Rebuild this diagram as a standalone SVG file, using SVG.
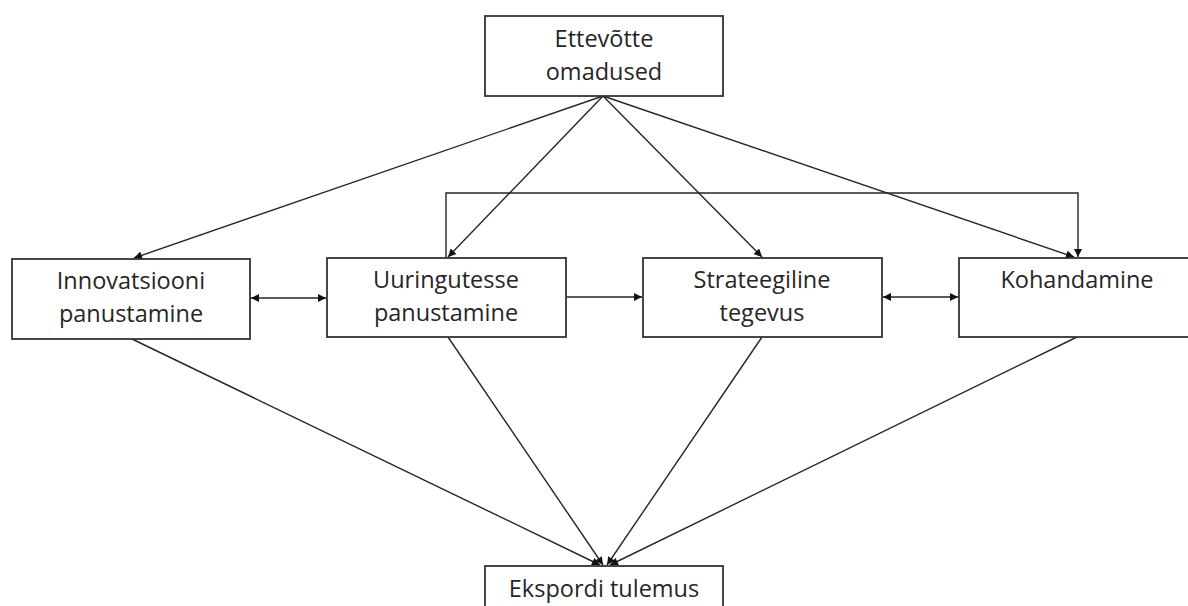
<svg xmlns="http://www.w3.org/2000/svg" width="1188" height="606" viewBox="0 0 1188 606">
<style>
.box{fill:#fff;stroke:#333;stroke-width:1.8}
.t{font-family:"Open Sans","Noto Sans","Liberation Sans",sans-serif;font-size:23.5px;fill:#262626;text-anchor:middle}
.ln{fill:none;stroke:#262626;stroke-width:1.4}
</style>
<defs>
<marker id="ah" viewBox="0 0 10 10" refX="10" refY="5" markerWidth="9" markerHeight="8" markerUnits="userSpaceOnUse" orient="auto-start-reverse">
<path d="M0,0 L10,5 L0,10 z" fill="#111"/>
</marker>
</defs>
<rect width="1188" height="606" fill="#fff"/>
<g id="connectors">
<line class="ln" x1="603" y1="96" x2="134" y2="258" marker-end="url(#ah)"/>
<line class="ln" x1="603" y1="96" x2="448" y2="257" marker-end="url(#ah)"/>
<line class="ln" x1="603" y1="96" x2="762" y2="257" marker-end="url(#ah)"/>
<line class="ln" x1="603" y1="96" x2="1074" y2="257" marker-end="url(#ah)"/>
<polyline class="ln" points="446,258 446,193 1078,193 1078,257" marker-end="url(#ah)"/>
<line class="ln" x1="251" y1="298" x2="326" y2="298" marker-start="url(#ah)" marker-end="url(#ah)"/>
<line class="ln" x1="566" y1="297" x2="642" y2="297" marker-end="url(#ah)"/>
<line class="ln" x1="883" y1="297" x2="958" y2="297" marker-start="url(#ah)" marker-end="url(#ah)"/>
<line class="ln" x1="132" y1="339" x2="600" y2="565" marker-end="url(#ah)"/>
<line class="ln" x1="448" y1="337" x2="603" y2="565" marker-end="url(#ah)"/>
<line class="ln" x1="762" y1="337" x2="607" y2="565" marker-end="url(#ah)"/>
<line class="ln" x1="1077" y1="337" x2="610" y2="565" marker-end="url(#ah)"/>
</g>
<g id="ettevotte">
<rect class="box" x="485" y="16" width="238" height="80"/>
<text class="t" x="604" y="47">Ettevõtte</text>
<text class="t" x="604" y="80">omadused</text>
</g>
<g id="innovatsiooni">
<rect class="box" x="12" y="259" width="238" height="80"/>
<text class="t" x="131" y="289">Innovatsiooni</text>
<text class="t" x="131" y="322">panustamine</text>
</g>
<g id="uuringutesse">
<rect class="box" x="327" y="258" width="239" height="79"/>
<text class="t" x="446" y="288">Uuringutesse</text>
<text class="t" x="446" y="321">panustamine</text>
</g>
<g id="strateegiline">
<rect class="box" x="643" y="258" width="239" height="79"/>
<text class="t" x="762" y="288">Strateegiline</text>
<text class="t" x="762" y="321">tegevus</text>
</g>
<g id="kohandamine">
<rect class="box" x="959" y="258" width="240" height="79"/>
<text class="t" x="1077" y="288">Kohandamine</text>
</g>
<g id="ekspordi">
<rect class="box" x="485" y="566" width="238" height="60"/>
<text class="t" x="604" y="597">Ekspordi tulemus</text>
</g>
</svg>
